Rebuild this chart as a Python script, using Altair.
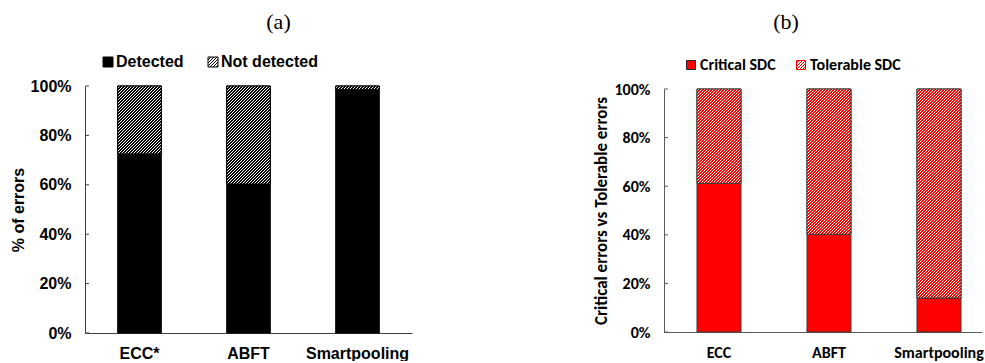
import altair as alt
import pandas as pd

# ---- panel (a): error detection ----
methods_a = ["ECC*", "ABFT", "Smartpooling"]
detected = [72.5, 60.3, 98.5]
not_detected = [27.5, 39.7, 1.5]
status_a = ["Detected", "Not detected"]

# ---- panel (b): criticality of silent data corruptions ----
methods_b = ["ECC", "ABFT", "Smartpooling"]
critical_sdc = [61.2, 40.2, 14.0]
tolerable_sdc = [38.8, 59.8, 86.0]
status_b = ["Critical SDC", "Tolerable SDC"]

tick_values = [0, 20, 40, 60, 80, 100]

FONT_A = "Liberation Sans, Arial, sans-serif"
FONT_B = "Carlito, Calibri, Lato, sans-serif"
FONT_T = "Liberation Serif, Times New Roman, serif"

W_A, H_A = 327, 247
W_B, H_B = 318, 246


def stacked_frame(methods, low, high, names):
    rows = []
    for m, a, b in zip(methods, low, high):
        rows.append({"method": m, "status": names[0], "start": 0, "end": a})
        rows.append({"method": m, "status": names[1], "start": a, "end": a + b})
    return pd.DataFrame(rows)


def hatch_gradient(width_px, height_px, ink, ink_share=0.5, period=3.0):
    """Diagonal '/' stripes as a hard-stop linear gradient over the bar box.

    The gradient runs along x + y (in pixels) with a fixed period, so the
    stripes sit at 45 degrees whatever the box's aspect ratio.  The number
    of periods is a power of two so the stripes stay even when the browser
    samples the gradient through a lookup table.
    """
    w, h = width_px, max(height_px, 0.5)
    d = w * w + h * h
    n = 8
    while n * period < w + h:
        n *= 2
    span = n * period  # pixel length of x + y covered by the gradient
    stops = []
    for k in range(n):
        a, m, b = k / n, (k + ink_share) / n, (k + 1) / n
        stops += [
            {"offset": a, "color": ink},
            {"offset": m, "color": ink},
            {"offset": m, "color": "white"},
            {"offset": b, "color": "white"},
        ]
    return {
        "gradient": "linear",
        "x1": 0, "y1": 0,
        "x2": span * w / d,
        "y2": span * h / d,
        "stops": stops,
    }


def hatch_symbol(step):
    """Square outline plus '/' hatch lines in the [-1, 1] symbol box."""
    parts = ["M-1,-1H1V1H-1Z"]
    c = -2 + step
    while c < 2 - 1e-6:
        if c <= 0:
            parts.append(f"M-1,{c + 1:.3f}L{c + 1:.3f},-1")
        else:
            parts.append(f"M{c - 1:.3f},1L1,{c - 1:.3f}")
        c += step
    return "".join(parts)


def panel(df, methods, names, colors, hatch_ink, ink_share, hatch_values,
          width, height, top_inset, band_pad_outer, band_align, font,
          axis_color, bar_stroke, y_title, title_text, title_dx, title_offset,
          legend_x, legend_y, symbol_size, legend_stroke_expr, label_offset,
          column_padding, y_title_size, label_size):
    step = width / (3 - 0.6 + 2 * band_pad_outer)
    bandwidth = step * 0.4
    value_span = height - top_inset

    x_enc = alt.X(
        "method:N", sort=methods,
        scale=alt.Scale(paddingInner=0.6, paddingOuter=band_pad_outer, align=band_align),
        axis=alt.Axis(title=None, labelAngle=0, ticks=False, domainColor=axis_color,
                      labelFont=font, labelFontSize=label_size, labelFontWeight="bold",
                      labelColor="black", labelPadding=12),
    )
    y_enc = alt.Y(
        "start:Q",
        scale=alt.Scale(domain=[0, 100], nice=False, range=[height, top_inset]),
        axis=alt.Axis(values=tick_values, labelExpr="datum.value + '%'", grid=False,
                      tickSize=0, domainColor=axis_color, labelFont=font,
                      labelFontSize=label_size, labelFontWeight="bold",
                      labelColor="black", labelPadding=14, title=y_title,
                      titleFont=font, titleFontSize=y_title_size,
                      titleFontWeight="bold", titleColor="black", titlePadding=4),
    )

    shape_path = hatch_symbol(6.0 / (symbol_size ** 0.5))
    legend = alt.Legend(
        title=None, orient="none", direction="horizontal",
        legendX=legend_x, legendY=legend_y,
        symbolType={"expr": f"datum.value == '{names[1]}' ? '{shape_path}' : 'square'"},
        symbolSize=symbol_size, symbolStrokeWidth=1,
        symbolStrokeColor={"expr": legend_stroke_expr},
        labelFont=font, labelFontSize=label_size, labelFontWeight="bold",
        labelColor="black", labelOffset=label_offset, columnPadding=column_padding,
    )

    base = alt.Chart(df).mark_bar(stroke=bar_stroke, strokeWidth=1).encode(
        x=x_enc, y=y_enc, y2="end:Q",
        color=alt.Color("status:N", scale=alt.Scale(domain=names, range=colors),
                        legend=legend),
    )

    layers = [base]
    for m, v in zip(methods, hatch_values):
        grad = hatch_gradient(bandwidth, v / 100 * value_span, hatch_ink, ink_share)
        layers.append(
            alt.Chart(df)
            .transform_filter(
                (alt.datum.method == m) & (alt.datum.status == names[1]))
            .mark_bar(fill=grad, stroke=bar_stroke, strokeWidth=1)
            .encode(x=alt.X("method:N", sort=methods), y="start:Q", y2="end:Q")
        )

    # short inward tick marks on the value axis
    ticks = alt.Chart(pd.DataFrame({"start": tick_values})).mark_rule(
        color=axis_color, strokeWidth=1
    ).encode(y="start:Q", x=alt.value(0), x2=alt.value(4))
    layers.append(ticks)

    return alt.layer(*layers).properties(
        width=width, height=height,
        title=alt.TitleParams(title_text, font=FONT_T, fontSize=22,
                              fontWeight="normal", color="black",
                              anchor="middle", offset=title_offset, dx=title_dx),
    )


df_a = stacked_frame(methods_a, detected, not_detected, status_a)
df_b = stacked_frame(methods_b, critical_sdc, tolerable_sdc, status_b)

chart_a = panel(
    df_a, methods_a, status_a, ["black", "white"], "black", 0.5, not_detected,
    W_A, H_A, 0, 0.3, 0.5, FONT_A, "#404040", "black",
    "% of errors", "(a)", 30, 20.5, 15, -32, 100, "'black'", 0, 21, 16, 16,
)
chart_b = panel(
    df_b, methods_b, status_b, ["#ff0000", "white"], "#ff0000", 0.4, tolerable_sdc,
    W_B, H_B, 3, 0.2455, 0.611, FONT_B, "#595959", "#3a3a3a",
    "Critical errors vs Tolerable errors", "(b)", -37, 23.5, 19, -29, 81,
    f"datum.value == '{status_b[1]}' ? '#ff0000' : '#262626'", 1, 17, 17, 16,
)

chart = (
    alt.hconcat(chart_a, chart_b, spacing=180)
    .resolve_scale(color="independent", x="independent", y="independent")
    .resolve_legend(color="independent")
    .configure_view(stroke=None)
    .properties(padding={"left": 10, "top": 10, "right": 0, "bottom": 0},
                background="white")
)

chart.save("out.html", embed_options={"renderer": "svg", "actions": False})
